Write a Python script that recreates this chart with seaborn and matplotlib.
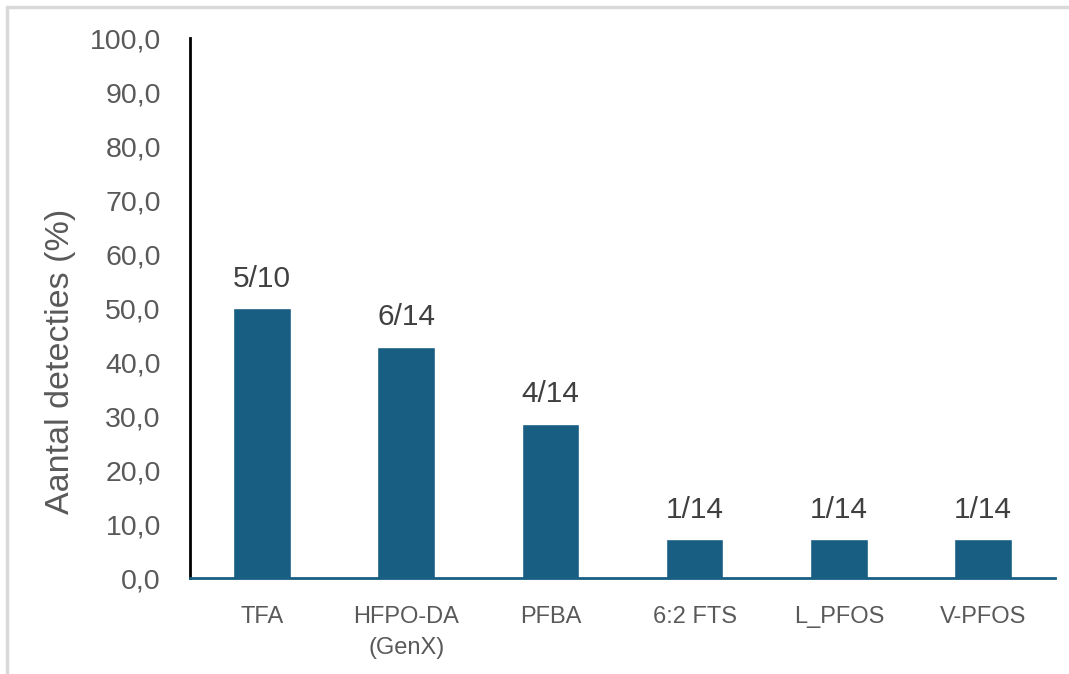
import matplotlib
matplotlib.use("Agg")
import matplotlib.pyplot as plt
from matplotlib.lines import Line2D
from matplotlib.ticker import FuncFormatter
import seaborn as sns
import pandas as pd

# Detection counts per compound
compounds = ["TFA", "HFPO-DA\n(GenX)", "PFBA", "6:2 FTS", "L_PFOS", "V-PFOS"]
detected = [5, 6, 4, 1, 1, 1]
samples = [10, 14, 14, 14, 14, 14]

pct = [d / n * 100 for d, n in zip(detected, samples)]
labels = [f"{d}/{n}" for d, n in zip(detected, samples)]
df = pd.DataFrame({"compound": compounds, "pct": pct})

sns.set_style("white")
plt.rcParams["font.family"] = ["Liberation Sans", "DejaVu Sans"]

BAR = "#175E82"
fig = plt.figure(figsize=(10.69, 6.74), dpi=100)
ax = fig.add_axes([0.1777, 0.1424, 0.987 - 0.1777, 0.9436 - 0.1424])

sns.barplot(data=df, x="compound", y="pct", color=BAR, width=0.4,
            saturation=1, ax=ax)

ax.set_ylim(0, 100)
ax.set_xlim(-0.5, len(compounds) - 0.5)
ax.set_yticks(range(0, 101, 10))
ax.yaxis.set_major_formatter(FuncFormatter(lambda v, p: f"{v:.1f}".replace(".", ",")))
ax.tick_params(axis="y", labelsize=20.5, labelcolor="#595959", length=0, pad=21)
ax.tick_params(axis="x", labelsize=17, labelcolor="#595959", length=0, pad=20)
for t in ax.get_xticklabels():
    t.set_linespacing(1.55)
ax.set_xlabel("")
ax.set_ylabel("Aantal detecties (%)", fontsize=24.5, color="#595959")
ax.yaxis.set_label_coords(-0.132, 0.402)

for side in ("top", "right"):
    ax.spines[side].set_visible(False)
ax.spines["left"].set_color("black")
ax.spines["left"].set_linewidth(2)
ax.spines["bottom"].set_color(BAR)
ax.spines["bottom"].set_linewidth(2)

ax.bar_label(ax.containers[0], labels=labels, padding=11, fontsize=21.5,
             color="#404040")

# light frame along the top and left edges of the figure
frame = dict(color="#d9d9d9", linewidth=2.5, transform=fig.transFigure)
fig.add_artist(Line2D([7 / 1069, 1], [1 - 7 / 674, 1 - 7 / 674], **frame))
fig.add_artist(Line2D([7 / 1069, 7 / 1069], [0, 1 - 7 / 674], **frame))

fig.savefig("out.png", dpi=100)
